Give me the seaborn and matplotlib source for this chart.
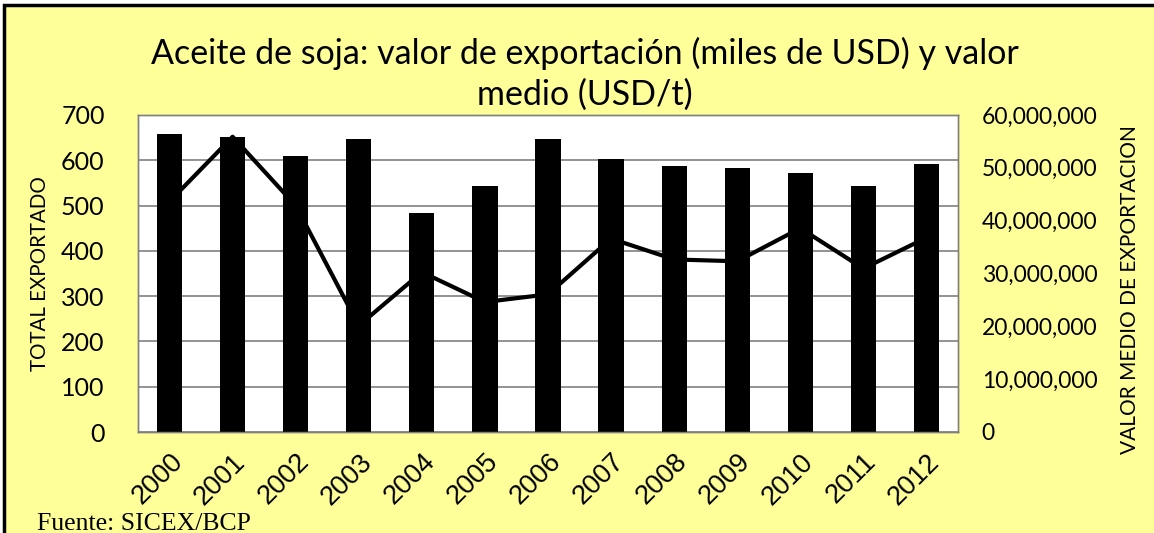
import numpy as np
import pandas as pd
import matplotlib
matplotlib.use("Agg")
import matplotlib.pyplot as plt
from matplotlib.patches import Rectangle
from matplotlib.ticker import FuncFormatter
import seaborn as sns

years = ['2000', '2001', '2002', '2003', '2004', '2005', '2006',
         '2007', '2008', '2009', '2010', '2011', '2012']
# line, read on the left axis (TOTAL EXPORTADO)
total_exportado = [509, 652, 500, 235, 353, 287, 304, 427, 381, 377, 450, 361, 429]
# bars, read on the right axis (VALOR MEDIO DE EXPORTACION)
valor_medio = [56.4e6, 55.8e6, 52.3e6, 55.5e6, 41.5e6, 46.5e6, 55.5e6,
               51.7e6, 50.3e6, 49.9e6, 49.0e6, 46.5e6, 50.8e6]

df = pd.DataFrame({'year': years, 'total': total_exportado, 'valor': valor_medio})
df['pos'] = np.arange(len(years))

sns.set_style("white")
plt.rcParams['font.family'] = ['Lato', 'DejaVu Sans']
plt.rcParams['text.color'] = 'black'
plt.rcParams['xtick.color'] = 'black'
plt.rcParams['ytick.color'] = 'black'
plt.rcParams['axes.labelcolor'] = 'black'

yellow = '#FFFF99'
grey = '#808080'

fig = plt.figure(figsize=(11.54, 5.33), dpi=100, facecolor='white')
fig.patches.append(Rectangle((4 / 1154, -0.1), 1.2, 1.1 - 5 / 533,
                             transform=fig.transFigure, facecolor=yellow,
                             edgecolor='black', linewidth=2.5, zorder=-10))

ax = fig.add_axes([138 / 1154, 1 - 432 / 533, 820 / 1154, 317 / 533])
ax.set_facecolor('white')
ax2 = ax.twinx()

sns.lineplot(data=df, x='pos', y='total', ax=ax, color='black', linewidth=3, zorder=3)
sns.barplot(data=df, x='year', y='valor', ax=ax2, color='black', width=0.4,
            saturation=1, edgecolor='black', linewidth=0)

ax.set_xlim(-0.5, 12.5)
ax.set_ylim(0, 700)
ax.set_yticks(range(0, 701, 100))
ax2.set_ylim(0, 60e6)
ax2.set_yticks(np.arange(0, 60e6 + 1, 10e6))
ax2.yaxis.set_major_formatter(FuncFormatter(lambda v, p: f'{v:,.0f}'))

ax.yaxis.grid(True, color=grey, linewidth=1.2)
ax.xaxis.grid(False)
ax.set_axisbelow(True)
ax2.grid(False)

ax.set_xticks(range(len(years)))
ax.set_xticklabels(years, rotation=45, ha='right', rotation_mode='anchor',
                   fontsize=19.5, family=['Liberation Sans'])
ax.tick_params(axis='x', length=0, pad=12)
ax.tick_params(axis='y', length=0, pad=24, labelsize=18)
ax2.tick_params(axis='y', length=0, pad=17, labelsize=16.5)

for a in (ax, ax2):
    for s in a.spines.values():
        s.set_color(grey)
        s.set_linewidth(1)

ax.set_xlabel('')
ax2.set_xlabel('')
ax.set_ylabel('TOTAL EXPORTADO', fontsize=14.8)
ax.yaxis.set_label_coords(-0.107, 0.5)
ax2.set_ylabel('VALOR MEDIO DE EXPORTACION', fontsize=15)
ax2.yaxis.set_label_coords(1.198, 0.45)

fig.text(585 / 1154, 1 - 53 / 533, 'Aceite de soja: valor de exportación (miles de USD) y valor',
         ha='center', va='center', fontsize=24.5)
fig.text(585 / 1154, 1 - 95 / 533, 'medio (USD/t)', ha='center', va='center', fontsize=24.5)

fig.text(37 / 1154, 3 / 533, 'Fuente: SICEX/BCP', ha='left', va='baseline',
         fontsize=18.5, family=['Liberation Serif'])

fig.savefig('out.png', dpi=100, facecolor=fig.get_facecolor())
